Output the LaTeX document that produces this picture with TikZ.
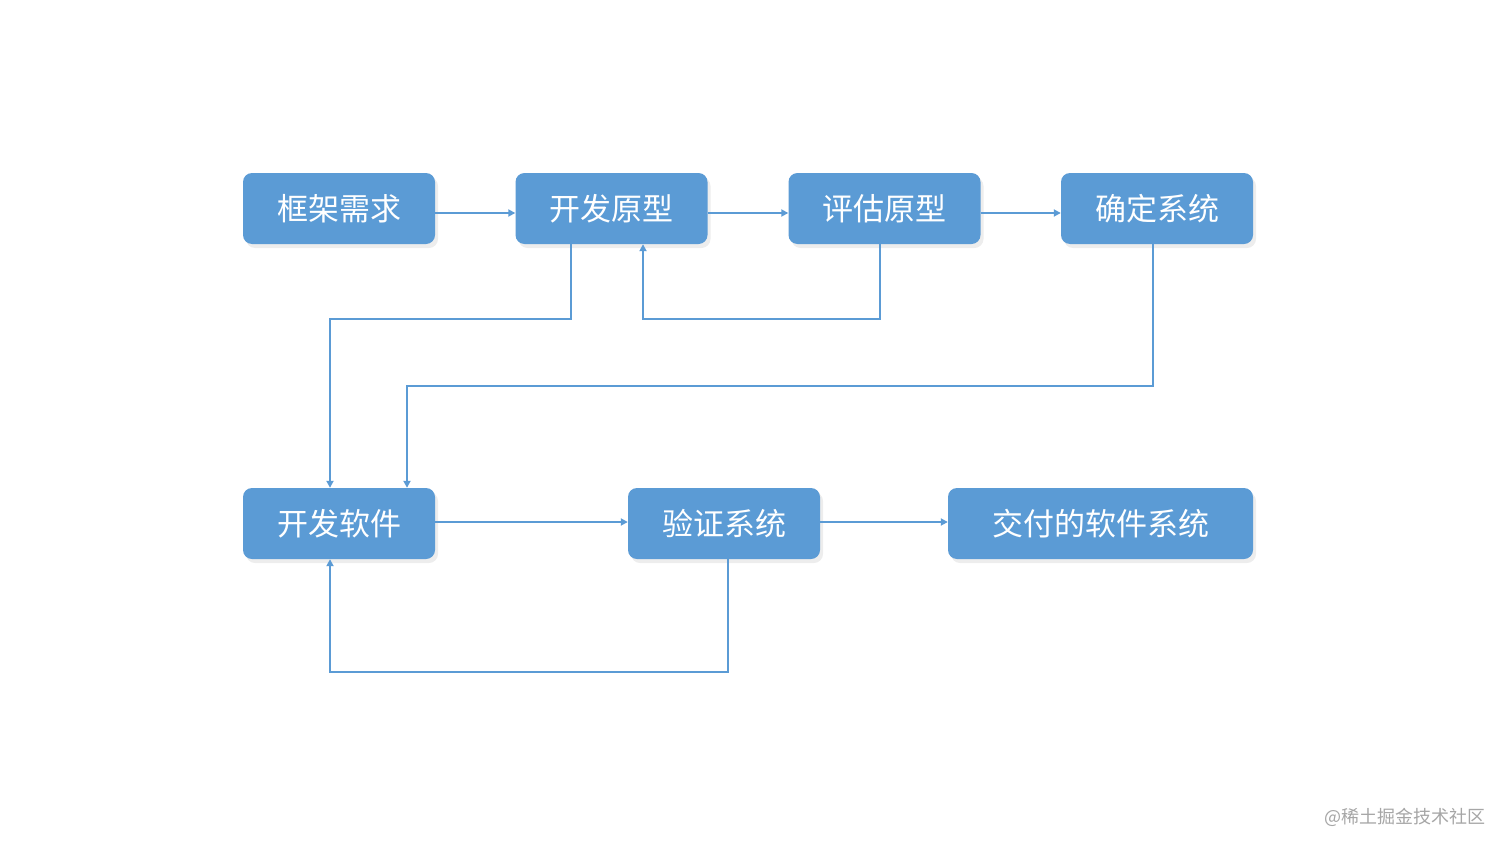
\documentclass[tikz,border=0pt]{standalone}
\usepackage{fontspec}
\newfontfamily\cjk{Noto Sans CJK SC}
\usetikzlibrary{arrows.meta,shadows}
\definecolor{boxblue}{HTML}{5B9BD5}
\definecolor{lineblue}{HTML}{5B9BD5}
\begin{document}
\begin{tikzpicture}[x=1pt,y=-1pt,
  procbox/.style={rectangle, rounded corners=9pt, fill=boxblue, draw=none,
    minimum height=71pt, text=white, font=\cjk\fontsize{31}{31}\selectfont, inner sep=0pt,
    drop shadow={shadow xshift=3pt, shadow yshift=-4pt, opacity=0.07, fill=black}},
  conn/.style={draw=lineblue, line width=2pt, -{Triangle[length=7pt,width=7pt]}}
]
\useasboundingbox (0,0) rectangle (1512,851);
\fill[white] (0,0) rectangle (1512,851);
\node[procbox, minimum width=192pt] (a) at (339,208.5) {框架需求};
\node[procbox, minimum width=192pt] (b) at (611.5,208.5) {开发原型};
\node[procbox, minimum width=192pt] (c) at (884.5,208.5) {评估原型};
\node[procbox, minimum width=192pt] (d) at (1157,208.5) {确定系统};
\node[procbox, minimum width=192pt] (e) at (339,523.5) {开发软件};
\node[procbox, minimum width=192pt] (f) at (724,523.5) {验证系统};
\node[procbox, minimum width=305pt] (g) at (1100.5,523.5) {交付的软件系统};

\draw[conn] (a.east |- 0,213) -- (b.west |- 0,213);
\draw[conn] (b.east |- 0,213) -- (c.west |- 0,213);
\draw[conn] (c.east |- 0,213) -- (d.west |- 0,213);
\draw[conn] (e.east |- 0,522) -- (f.west |- 0,522);
\draw[conn] (f.east |- 0,522) -- (g.west |- 0,522);

\draw[conn] (b.south -| 571,0) -- (571,319) -- (330,319) -- (e.north -| 330,0);
\draw[conn] (c.south -| 880,0) -- (880,319) -- (643,319) -- (b.south -| 643,0);
\draw[conn] (d.south -| 1153,0) -- (1153,386) -- (407,386) -- (e.north -| 407,0);
\draw[conn] (f.south -| 728,0) -- (728,672) -- (330,672) -- (e.south -| 330,0);

\node[text=gray!70, font=\cjk\fontsize{18}{18}\selectfont, anchor=east] (w) at (1489,817) {@稀土掘金技术社区};
\end{tikzpicture}
\end{document}
